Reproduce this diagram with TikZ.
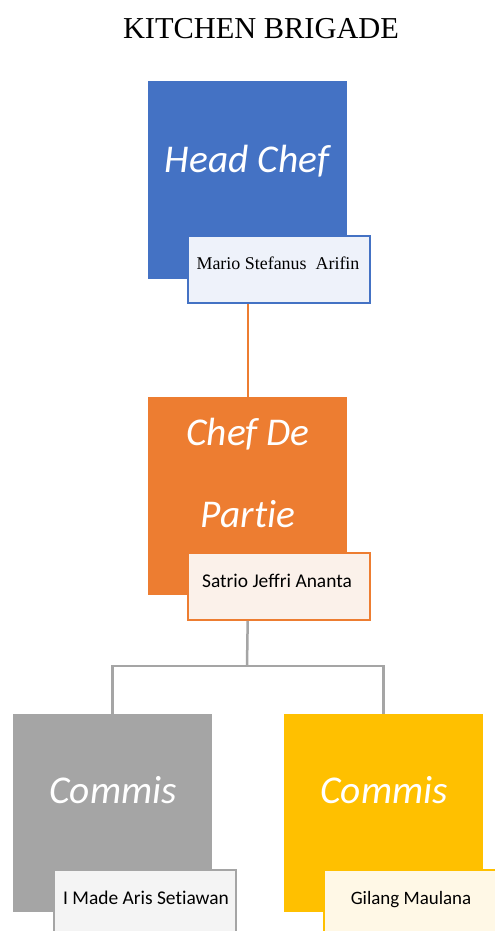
\documentclass[tikz,border=0pt]{standalone}
\usepackage{fontspec}
\setmainfont{Liberation Serif}
\newfontfamily\calib[Ligatures=NoCommon]{Carlito}
\definecolor{oblue}{HTML}{4472C4}
\definecolor{oorange}{HTML}{ED7D31}
\definecolor{ogray}{HTML}{A5A5A5}
\definecolor{ogold}{HTML}{FFC000}
\definecolor{lblue}{HTML}{EEF2FA}
\definecolor{lorange}{HTML}{FBF1EA}
\definecolor{lgray}{HTML}{F4F4F4}
\definecolor{lgold}{HTML}{FFF8E6}
\begin{document}
\begin{tikzpicture}[x=1bp,y=-1bp,
  rolebox/.style={draw=none,fill=#1,minimum width=199bp,minimum height=198bp,inner sep=0pt,anchor=north west},
  namebox/.style={draw=#1,line width=1.8bp,minimum width=182bp,minimum height=67bp,inner sep=0pt,anchor=north west},
  roletext/.style={text=white,font=\calib\itshape\fontsize{39.5}{46}\selectfont,anchor=base,inner sep=0pt},
  nametext/.style={text=black,anchor=base,inner sep=0pt},
  link/.style={line width=2.2bp}]
\useasboundingbox (0,0) rectangle (495,931);
\fill[white] (0,0) rectangle (495,931);
\node[anchor=base,inner sep=0pt,font=\fontsize{30.5}{34}\selectfont] (title) at (261,38) {KITCHEN BRIGADE};
% Head chef
\node[rolebox=oblue] (hc) at (148,81) {};
\node[namebox=oblue,fill=lblue] (hcn) at (187,235) {};
\node[roletext] (hct) at (247,172) {Head Chef};
\node[nametext,font=\fontsize{18}{21}\selectfont] (hcnt) at (278,269) {Mario Stefanus\ \ Arifin};
% Chef de partie
\node[rolebox=oorange] (cdp) at (148,397) {};
\node[namebox=oorange,fill=lorange] (cdpn) at (187,552) {};
\node[roletext] (cdpt1) at (248,445) {Chef De};
\node[roletext] (cdpt2) at (248,527) {Partie};
\node[nametext,font=\calib\fontsize{19.5}{22}\selectfont] (cdpnt) at (277,587) {Satrio Jeffri Ananta};
% Commis left
\node[rolebox=ogray] (cl) at (13,714) {};
\node[namebox=ogray,fill=lgray,minimum height=75bp] (cln) at (53,869) {};
\node[roletext] (clt) at (113,803) {Commis};
\node[nametext,font=\calib\fontsize{19.5}{22}\selectfont] (clnt) at (146,904) {I Made Aris Setiawan};
% Commis right
\node[rolebox=ogold] (cr) at (284,714) {};
\node[namebox=ogold,fill=lgold,minimum height=75bp] (crn) at (323,869) {};
\node[roletext] (crt) at (384,803) {Commis};
\node[nametext,font=\calib\fontsize{19}{22}\selectfont] (crnt) at (411,904) {Gilang Maulana};
% connectors
\draw[link,oorange] (hc.south |- hcn.south) -- (cdp.north);
\coordinate (mid) at (247,666);
\draw[link,ogray,line width=2.5bp] (cdp.south |- cdpn.south) -- (mid);
\draw[link,ogray,line width=2.5bp] (cl.north) |- (mid) -| (cr.north);
\end{tikzpicture}
\end{document}
